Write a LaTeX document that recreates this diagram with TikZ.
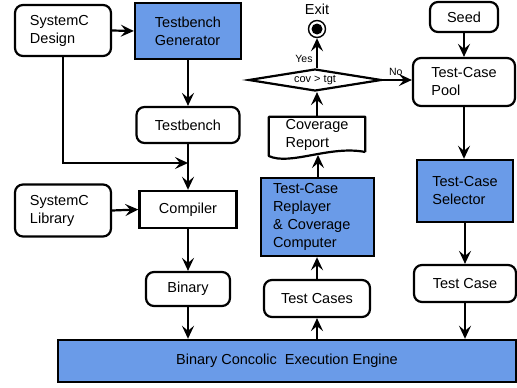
\documentclass[tikz,border=0pt]{standalone}
\usepackage{fontspec}
\setmainfont{Liberation Sans}
\usetikzlibrary{shapes.geometric,arrows.meta}
\definecolor{toolblue}{RGB}{106,155,232}

\begin{document}
\begin{tikzpicture}[x=1pt,y=-1pt,
  font=\fontsize{14.5}{18}\selectfont,
  rbox/.style={draw,line width=2.2pt,rounded corners=8pt,align=left,inner sep=0pt},
  bbox/.style={draw,line width=2.4pt,fill=toolblue,align=left,inner sep=0pt},
  sbox/.style={draw,line width=2.4pt,align=left,inner sep=0pt},
  flow/.style={line width=2.2pt,-{Stealth[length=13pt,width=12pt,inset=5pt]}},
  small/.style={font=\fontsize{10.5}{12}\selectfont}]
\useasboundingbox (0,0) rectangle (517,388);
\node[rbox,minimum width=96pt,minimum height=51pt,text width=66pt] (design) at (63,30.5) {SystemC\\Design};
\node[bbox,minimum width=106pt,minimum height=56pt] (gen) at (188,31) {Testbench\\Generator};
\node[rbox,minimum width=103pt,minimum height=36pt] (tb) at (188,125) {Testbench};
\node[rbox,minimum width=96pt,minimum height=52pt,text width=66pt] (lib) at (63,210.5) {SystemC\\Library};
\node[sbox,minimum width=97pt,minimum height=37pt] (comp) at (188,209.5) {Compiler};
\node[rbox,minimum width=84pt,minimum height=34pt] (bin) at (188,289) {Binary};
\node[bbox,minimum width=458pt,minimum height=42pt] (engine) at (287,361) {Binary Concolic~ Execution Engine};
\node[rbox,minimum width=106pt,minimum height=37pt] (tcs) at (317,298.5) {Test Cases};
\node[rbox,minimum width=102pt,minimum height=37pt] (tc) at (465,283.5) {Test Case};
\node[bbox,minimum width=113pt,minimum height=78pt,text width=89pt] (rep) at (317.5,217) {Test-Case\\Replayer\\\& Coverage\\Computer};
\node[align=left,inner sep=0pt,minimum width=96pt,minimum height=36pt] (rpt) at (317,135) {Coverage\\Report};
\draw[line width=2.2pt,line join=round] (rpt.east |- 0,152) -- (rpt.north east) -- (rpt.north west) -- (rpt.west |- 0,156)
  .. controls (290,166) and (330,145) .. (rpt.east |- 0,152);
\coordinate (rptb) at (318,155);
\node[draw,diamond,line width=2.2pt,aspect=6,inner sep=0pt,minimum width=133pt,minimum height=22pt,
  font=\fontsize{11}{13}\selectfont] (dec) at (315,80) {cov > tgt};
\node[circle,draw,line width=1.4pt,minimum size=17pt,inner sep=0pt] (exit) at (317,29) {};
\fill (exit.center) circle (5.5pt);
\node (exitlbl) at (317,9) {Exit};
\node[rbox,minimum width=68pt,minimum height=30pt] (seed) at (464,17) {Seed};
\node[rbox,minimum width=102pt,minimum height=48pt] (pool) at (464,82) {Test-Case\\Pool};
\node[bbox,minimum width=96pt,minimum height=62pt] (sel) at (465,191) {Test-Case\\Selector};
\coordinate (join) at (188,163);
\draw[flow] (design.east) -- (gen.west);
\draw[flow] (gen.south) -- (tb.north);
\draw[flow] (design.south) |- (join);
\draw[flow] (tb.south) -- (comp.north);
\draw[flow] (lib.east) -- (comp.west);
\draw[flow] (comp.south) -- (bin.north);
\draw[flow] (bin.south) -- (bin.south |- engine.north);
\draw[flow] (tcs.south |- engine.north) -- (tcs.south);
\draw[flow] (tcs.north) -- (tcs.north |- rep.south);
\draw[flow] (rep.north -| rptb) -- (rptb);
\draw[flow] (rpt.north -| exit) -- (exit |- dec.south);
\draw[flow] (exit |- dec.north) -- node[small,left,pos=0.3]{Yes} (exit.south);
\draw[flow] (dec.east) -- node[small,above,pos=0.45]{No} (dec.east -| pool.west);
\draw[flow] (seed.south) -- (pool.north);
\draw[flow] (pool.south) -- (pool.south |- sel.north);
\draw[flow] (sel.south) -- (tc.north);
\draw[flow] (tc.south) -- (tc.south |- engine.north);
\end{tikzpicture}
\end{document}
